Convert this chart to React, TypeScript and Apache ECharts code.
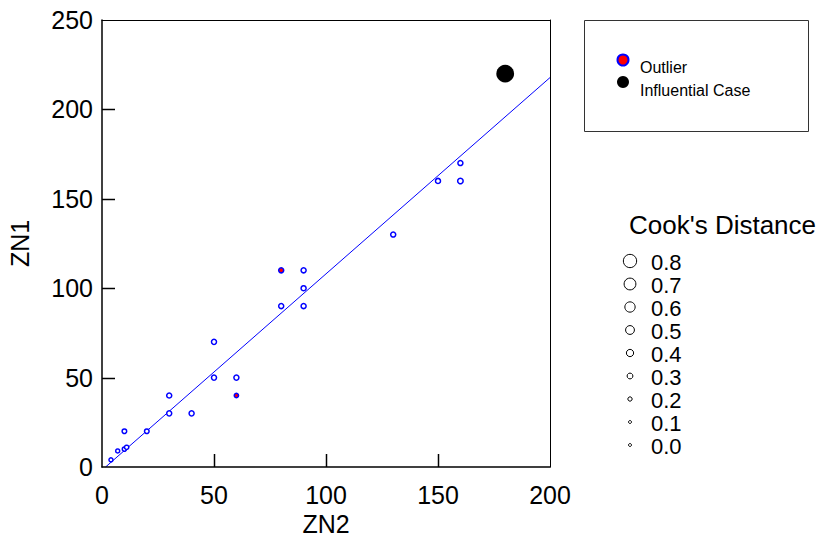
import React, { useEffect, useRef } from "react";
import * as echarts from "echarts";

// ---- data ----
const zn2 = [4, 7, 10, 11, 10, 20, 30, 30, 40, 50, 50, 60, 90, 90, 80, 90, 130, 150, 160, 160];
const zn1 = [4, 9, 10, 11, 20, 20, 40, 30, 30, 70, 50, 50, 110, 100, 90, 90, 130, 160, 160, 170];
const cooks = [0.18, 0.18, 0.2, 0.2, 0.22, 0.22, 0.25, 0.25, 0.25, 0.25, 0.25, 0.25, 0.25, 0.25, 0.25, 0.25, 0.25, 0.25, 0.28, 0.25];

const outlierZn2 = [60, 80];
const outlierZn1 = [40, 110];
const outlierCooks = [0.2, 0.25];

const influentialZn2 = [180];
const influentialZn1 = [220];
const influentialCooks = [1.1];

const fitX = [1.6, 200];
const fitY = [0, 217.8];

const xTicks = [0, 50, 100, 150, 200];
const yTicks = [0, 50, 100, 150, 200, 250];

const cookLevels = [0.8, 0.7, 0.6, 0.5, 0.4, 0.3, 0.2, 0.1, 0.0];

const FONT = "'Liberation Sans', Arial, Helvetica, sans-serif";
const BLUE = "#0000ff";

const GRID_LEFT = 102;
const GRID_TOP = 20;
const GRID_W = 448;
const GRID_H = 447;
const TICK_LEN = 13;

function sizeFor(d: number) {
  return Math.max(3, 1.3 + 15 * d);
}

export default function App() {
  const ref = useRef<HTMLDivElement>(null);

  useEffect(() => {
    if (!ref.current) return;
    const chart = echarts.init(ref.current, undefined, { renderer: "svg" });

    const normalData = zn2.map((x, i) => [x, zn1[i], cooks[i]]);
    const outlierData = outlierZn2.map((x, i) => [x, outlierZn1[i], outlierCooks[i]]);
    const inflData = influentialZn2.map((x, i) => [x, influentialZn1[i], influentialCooks[i]]);
    const fitData = fitX.map((x, i) => [x, fitY[i]]);

    const graphics: any[] = [
      {
        type: "rect",
        shape: { x: 584.5, y: 20.5, width: 224, height: 111 },
        style: { fill: "#fff", stroke: "#333", lineWidth: 1 },
      },
      {
        type: "circle",
        shape: { cx: 623, cy: 60, r: 5.5 },
        style: { fill: "#ff0000", stroke: BLUE, lineWidth: 2 },
      },
      {
        type: "circle",
        shape: { cx: 623, cy: 82, r: 6 },
        style: { fill: "#000" },
      },
      {
        type: "text",
        x: 640,
        y: 67,
        style: { text: "Outlier", font: `16px ${FONT}`, fill: "#000", verticalAlign: "middle", align: "left" },
      },
      {
        type: "text",
        x: 640,
        y: 90,
        style: { text: "Influential Case", font: `16px ${FONT}`, fill: "#000", verticalAlign: "middle", align: "left" },
      },
      {
        type: "text",
        x: 629,
        y: 225,
        style: { text: "Cook's Distance", font: `26px ${FONT}`, fill: "#000", verticalAlign: "middle", align: "left" },
      },
    ];

    cookLevels.forEach((d, i) => {
      const cy = 261 + 23 * i;
      graphics.push({
        type: "circle",
        shape: { cx: 630, cy, r: sizeFor(d) / 2 },
        style: { fill: "#fff", stroke: "#000", lineWidth: 1 },
      });
      graphics.push({
        type: "text",
        x: 651,
        y: cy + 1,
        style: { text: d.toFixed(1), font: `22px ${FONT}`, fill: "#000", verticalAlign: "middle", align: "left" },
      });
    });

    // inward ticks, placed from the grid geometry and the tick values
    const xMin = xTicks[0];
    const xMax = xTicks[xTicks.length - 1];
    const yMin = yTicks[0];
    const yMax = yTicks[yTicks.length - 1];
    const bottom = GRID_TOP + GRID_H;
    xTicks.slice(1, -1).forEach((v) => {
      const px = Math.round(GRID_LEFT + ((v - xMin) / (xMax - xMin)) * GRID_W) + 0.5;
      graphics.push({
        type: "line",
        z: 100,
        shape: { x1: px, y1: bottom, x2: px, y2: bottom - TICK_LEN },
        style: { stroke: "#000", lineWidth: 1.5 },
      });
    });
    yTicks.slice(1, -1).forEach((v) => {
      const py = Math.round(bottom - ((v - yMin) / (yMax - yMin)) * GRID_H) + 0.5;
      graphics.push({
        type: "line",
        z: 100,
        shape: { x1: GRID_LEFT, y1: py, x2: GRID_LEFT + TICK_LEN, y2: py },
        style: { stroke: "#000", lineWidth: 1.5 },
      });
    });

    const frameAxis = {
      type: "value",
      interval: 50,
      axisLine: { show: true, onZero: false, lineStyle: { color: "#000", width: 1 } },
      axisTick: { show: false },
      axisLabel: { show: false },
      splitLine: { show: false },
      z: 5,
    };

    chart.setOption({
      animation: false,
      backgroundColor: "#fff",
      textStyle: { fontFamily: FONT },
      grid: {
        left: GRID_LEFT,
        top: GRID_TOP,
        width: GRID_W,
        height: GRID_H,
        show: false,
        containLabel: false,
        outerBoundsMode: "none",
      },
      xAxis: [
        {
          type: "value",
          position: "bottom",
          min: xMin,
          max: xMax,
          interval: 50,
          name: "ZN2",
          nameLocation: "middle",
          nameGap: 41,
          nameTextStyle: { fontSize: 25, color: "#000", fontFamily: FONT },
          axisLine: { show: true, onZero: false, lineStyle: { color: "#000", width: 1.5 } },
          axisTick: { show: false },
          axisLabel: { fontSize: 25, color: "#000", margin: 15, fontFamily: FONT },
          splitLine: { show: false },
          z: 5,
        },
        { ...frameAxis, position: "top", min: xMin, max: xMax },
      ],
      yAxis: [
        {
          type: "value",
          position: "left",
          min: yMin,
          max: yMax,
          interval: 50,
          name: "ZN1",
          nameLocation: "middle",
          nameGap: 70,
          nameTextStyle: { fontSize: 25, color: "#000", fontFamily: FONT },
          axisLine: { show: true, onZero: false, lineStyle: { color: "#000", width: 1.5 } },
          axisTick: { show: false },
          axisLabel: { fontSize: 25, color: "#000", margin: 9, fontFamily: FONT },
          splitLine: { show: false },
          z: 5,
        },
        { ...frameAxis, position: "right", min: yMin, max: yMax },
      ],
      series: [
        {
          name: "Fit",
          type: "line",
          data: fitData,
          showSymbol: false,
          symbol: "none",
          lineStyle: { color: BLUE, width: 1 },
          z: 1,
          silent: true,
        },
        {
          name: "Cases",
          type: "scatter",
          data: normalData,
          symbol: "circle",
          symbolSize: (v: number[]) => sizeFor(v[2]),
          itemStyle: { color: "#fff", borderColor: BLUE, borderWidth: 1.5, opacity: 1 },
          z: 3,
        },
        {
          name: "Outlier",
          type: "scatter",
          data: outlierData,
          symbol: "circle",
          symbolSize: (v: number[]) => sizeFor(v[2]),
          itemStyle: { color: "#ff0000", borderColor: BLUE, borderWidth: 1.5, opacity: 1 },
          z: 3,
        },
        {
          name: "Influential Case",
          type: "scatter",
          data: inflData,
          symbol: "circle",
          symbolSize: (v: number[]) => sizeFor(v[2]),
          itemStyle: { color: "#000", opacity: 1 },
          z: 4,
        },
      ],
      graphic: graphics,
    });

    return () => chart.dispose();
  }, []);

  return (
    <div
      ref={ref}
      style={{ position: "fixed", left: 0, top: 0, width: 824, height: 538, background: "#fff" }}
    />
  );
}
